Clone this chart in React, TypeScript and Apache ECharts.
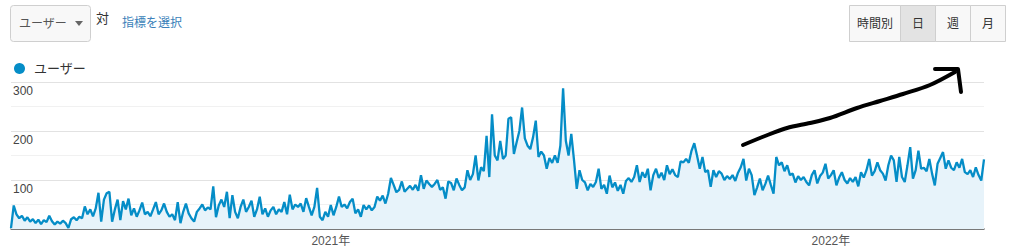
import React, { useEffect, useRef } from "react";
import * as echarts from "echarts";

// Daily users, sampled every 2 days, from 2020-05-12
const START_UTC = Date.UTC(2020, 4, 12);
const STEP_DAYS = 2;

const users2020: number[] = [
  2, 48, 30, 22, 27, 17, 24, 15, 20, 12,
  19, 10, 18, 14, 27, 16, 9, 15, 11, 17,
  12, 2, 20, 24, 18, 25, 22, 46, 30, 40,
  26, 42, 74, 15, 60, 73, 76, 15, 40, 60,
  18, 57, 40, 62, 28, 42, 25, 38, 54, 30,
  35, 26, 40, 55, 30, 38, 52, 35, 25, 30,
  18, 55, 12, 35, 52, 32, 22, 15, 35, 42,
  50, 38, 44, 40, 87, 24, 48, 60, 45, 76,
  22, 69, 35, 22, 45, 60, 35, 45, 58, 25,
  40, 66, 30, 42, 25, 38, 45, 30, 40, 35,
  55, 30, 70, 40, 50, 45, 52, 35, 63, 45,
  28, 45, 84, 25, 18, 35, 25,
];
const users2021: number[] = [
  49, 28, 45,
  66, 45, 50, 42, 55, 62, 32, 40, 25, 49,
  40, 48, 38, 45, 66, 58, 68, 52, 72, 104,
  90, 75, 80, 97, 76, 82, 88, 80, 90, 78,
  110, 82, 99, 92, 86, 92, 100, 80, 85, 62,
  97, 94, 79, 103, 90, 79, 85, 120, 100, 112,
  150, 99, 126, 118, 190, 106, 234, 150, 140, 180,
  143, 150, 225, 228, 153, 177, 200, 248, 185, 170,
  163, 187, 221, 147, 158, 150, 123, 145, 135, 150,
  135, 170, 287, 180, 150, 194, 140, 82, 120, 100,
  95, 79, 92, 86, 96, 123, 82, 90, 72, 109,
  85, 95, 78, 90, 72, 98, 104, 96, 106, 130,
  96, 116, 105, 123, 79, 110, 123, 104, 115, 100,
  130, 112, 122, 110, 106, 138, 136, 143, 135, 160,
  175, 150, 123, 147, 116, 120, 86, 120, 106, 118,
  113, 100, 108, 102, 110, 98, 115, 126, 143, 99,
  123, 110, 69, 85, 103, 79, 92, 109, 90, 72,
  147, 130, 136, 118, 130, 110, 113, 95, 108, 100,
  106, 96, 89, 110, 120, 93, 108, 115, 133, 103,
];
const users2022: number[] = [
  110, 120, 89, 105, 116, 100, 93, 104, 96, 106,
  87, 116, 105, 120, 143, 109, 118, 136, 120, 113,
  99, 130, 150, 140, 96, 147, 106, 96, 130, 167,
  103, 120, 160, 123, 125, 118, 143, 113, 89, 133,
  145, 157, 123, 140, 125, 120, 136, 125, 143, 116,
  112, 120, 106, 126, 110, 99, 142,
];

const users: number[] = [...users2020, ...users2021, ...users2022];

const dates: string[] = users.map((_, i) =>
  new Date(START_UTC + i * STEP_DAYS * 86400000).toISOString().slice(0, 10)
);

const yTicks = [0, 100, 200, 300];
const seriesName = "ユーザー";
const periodButtons = ["時間別", "日", "週", "月"];
const selectedPeriod = "日";

const FONT = '"Liberation Sans", Arial, "Noto Sans CJK JP", sans-serif';

export default function App() {
  const ref = useRef<HTMLDivElement>(null);

  useEffect(() => {
    document.body.style.margin = "0";
    const chart = echarts.init(ref.current!, null, { renderer: "svg" });

    const btnX = [849, 900, 935, 970, 1005];
    const buttonGraphics: any[] = [];
    periodButtons.forEach((label, i) => {
      const x0 = btnX[i];
      const x1 = btnX[i + 1];
      const sel = label === selectedPeriod;
      buttonGraphics.push({
        type: "rect",
        shape: { x: x0 + 0.5, y: 5.5, width: x1 - x0, height: 36, r: 0 },
        style: {
          fill: sel ? "#e3e3e3" : "#f8f8f8",
          stroke: "#cfcfcf",
          lineWidth: 1,
        },
        z: 10,
      });
      buttonGraphics.push({
        type: "text",
        x: (x0 + x1) / 2 + 0.5,
        y: 23.5,
        style: {
          text: label,
          fill: "#333",
          font: `12px ${FONT}`,
          align: "center",
          verticalAlign: "middle",
        },
        z: 11,
      });
    });

    chart.setOption({
      animation: false,
      textStyle: { fontFamily: FONT },
      legend: {
        data: [seriesName],
        left: 9,
        top: 57,
        icon: "circle",
        itemWidth: 11,
        itemHeight: 11,
        textStyle: { fontSize: 13, color: "#333", padding: [0, 0, 0, 4] },
        selectedMode: false,
      },
      grid: { left: 11, right: 40, top: 82, bottom: 22, containLabel: false },
      xAxis: {
        type: "category",
        data: dates,
        boundaryGap: false,
        axisTick: { show: false },
        axisLine: { show: true, lineStyle: { color: "#555", width: 1.5 } },
        axisLabel: {
          color: "#555",
          fontSize: 12,
          margin: 6,
          interval: (i: number, v: string) =>
            i > 0 && dates[i - 1].slice(0, 4) !== v.slice(0, 4),
          formatter: (v: string) => v.slice(0, 4) + "年",
        },
        splitLine: { show: false },
      },
      yAxis: {
        type: "value",
        min: yTicks[0],
        max: yTicks[yTicks.length - 1],
        interval: 100,
        axisLine: { show: false },
        axisTick: { show: false },
        axisLabel: {
          inside: true,
          margin: 2,
          color: "#444",
          fontSize: 12,
          verticalAlign: "top",
          padding: [3, 0, 0, 0],
          formatter: (v: number) => (v === 0 ? "" : String(v)),
        },
        splitLine: { show: true, lineStyle: { color: "#e2e2e2", width: 1 } },
        minorTick: { show: false, splitNumber: 2 },
        minorSplitLine: { show: true, lineStyle: { color: "#f1f1f1", width: 1 } },
      },
      series: [
        {
          name: seriesName,
          type: "line",
          data: users,
          symbol: "none",
          itemStyle: { color: "#058dc7" },
          lineStyle: { color: "#058dc7", width: 2.3 },
          areaStyle: { color: "#e7f3fa", opacity: 1 },
        },
      ],
      graphic: [
        // metric dropdown
        {
          type: "rect",
          shape: { x: 10.5, y: 5.5, width: 80, height: 36, r: 3 },
          style: { fill: "#f8f8f8", stroke: "#cfcfcf", lineWidth: 1 },
        },
        {
          type: "text",
          x: 19,
          y: 23.5,
          style: {
            text: "ユーザー",
            fill: "#555",
            font: `12px ${FONT}`,
            verticalAlign: "middle",
          },
        },
        {
          type: "polygon",
          shape: { points: [[75, 21], [83, 21], [79, 26]] },
          style: { fill: "#666" },
        },
        {
          type: "text",
          x: 96,
          y: 18,
          style: {
            text: "対",
            fill: "#333",
            font: `13px ${FONT}`,
            verticalAlign: "middle",
          },
        },
        {
          type: "text",
          x: 122,
          y: 23,
          style: {
            text: "指標を選択",
            fill: "#3a7fb9",
            font: `12px ${FONT}`,
            verticalAlign: "middle",
          },
        },
        ...buttonGraphics,
        // hand-drawn arrow
        {
          type: "polyline",
          shape: {
            points: [
              [743, 145],
              [765, 136],
              [787, 128],
              [810, 123],
              [830, 118],
              [857, 108],
              [880, 101],
              [903, 94],
              [930, 85],
              [955, 72],
            ],
            smooth: 0.3,
          },
          style: { stroke: "#000", lineWidth: 4, lineCap: "round", lineJoin: "round", fill: null },
          z: 20,
        },
        {
          type: "polyline",
          shape: { points: [[935, 69], [958, 69], [961, 92]] },
          style: { stroke: "#000", lineWidth: 4, lineCap: "round", lineJoin: "round", fill: null },
          z: 20,
        },
      ],
    });

    return () => chart.dispose();
  }, []);

  return (
    <div
      ref={ref}
      style={{ position: "absolute", left: 0, top: 0, width: 1024, height: 251 }}
    />
  );
}
